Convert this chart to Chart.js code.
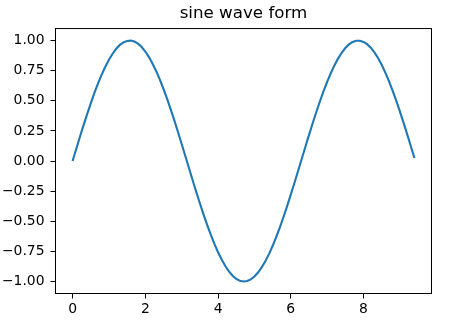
<!DOCTYPE html>
<html lang="en">
<head>
    <meta charset="UTF-8">
    <title>sine wave form</title>
    <script src="https://cdn.jsdelivr.net/npm/chart.js"></script>
    <style>
        body { margin: 0; background: #fff; }
        .wrap { width: 455px; height: 321px; }
    </style>
</head>
<body>
    <div class="wrap"><canvas id="chart" width="455" height="321"></canvas></div>

    <script>
        // values, x step 0.1
        const xValues = [
            0.0, 0.1, 0.2, 0.3, 0.4, 0.5, 0.6, 0.7, 0.8, 0.9,
            1.0, 1.1, 1.2, 1.3, 1.4, 1.5, 1.6, 1.7, 1.8, 1.9,
            2.0, 2.1, 2.2, 2.3, 2.4, 2.5, 2.6, 2.7, 2.8, 2.9,
            3.0, 3.1, 3.2, 3.3, 3.4, 3.5, 3.6, 3.7, 3.8, 3.9,
            4.0, 4.1, 4.2, 4.3, 4.4, 4.5, 4.6, 4.7, 4.8, 4.9,
            5.0, 5.1, 5.2, 5.3, 5.4, 5.5, 5.6, 5.7, 5.8, 5.9,
            6.0, 6.1, 6.2, 6.3, 6.4, 6.5, 6.6, 6.7, 6.8, 6.9,
            7.0, 7.1, 7.2, 7.3, 7.4, 7.5, 7.6, 7.7, 7.8, 7.9,
            8.0, 8.1, 8.2, 8.3, 8.4, 8.5, 8.6, 8.7, 8.8, 8.9,
            9.0, 9.1, 9.2, 9.3, 9.4
        ];
        const yValues = [
            0.000, 0.100, 0.199, 0.296, 0.389, 0.479, 0.565, 0.644, 0.717, 0.783,
            0.841, 0.891, 0.932, 0.964, 0.985, 0.997, 1.000, 0.992, 0.974, 0.946,
            0.909, 0.863, 0.808, 0.746, 0.676, 0.598, 0.516, 0.427, 0.335, 0.239,
            0.141, 0.042, -0.058, -0.158, -0.256, -0.351, -0.443, -0.530, -0.612, -0.688,
            -0.757, -0.818, -0.872, -0.916, -0.952, -0.978, -0.994, -1.000, -0.996, -0.983,
            -0.959, -0.926, -0.883, -0.832, -0.773, -0.706, -0.631, -0.551, -0.465, -0.374,
            -0.279, -0.182, -0.083, 0.017, 0.117, 0.215, 0.312, 0.405, 0.494, 0.578,
            0.657, 0.729, 0.794, 0.850, 0.899, 0.938, 0.968, 0.988, 0.999, 0.999,
            0.989, 0.970, 0.941, 0.902, 0.855, 0.799, 0.734, 0.663, 0.585, 0.501,
            0.412, 0.319, 0.223, 0.125, 0.025
        ];
        const xTicks = [0, 2, 4, 6, 8];
        const yTicks = [-1.00, -0.75, -0.50, -0.25, 0.00, 0.25, 0.50, 0.75, 1.00];

        Chart.defaults.font.family = 'DejaVu Sans';
        Chart.defaults.font.size = 13.9;
        Chart.defaults.color = '#000';

        // matplotlib-style box around the axes
        const frame = {
            id: 'frame',
            afterDatasetsDraw(chart) {
                const a = chart.chartArea, ctx = chart.ctx;
                ctx.save();
                ctx.strokeStyle = '#000';
                ctx.lineWidth = 1;
                ctx.strokeRect(a.left, a.top, a.right - a.left, a.bottom - a.top);
                ctx.restore();
            }
        };

        const minus = v => String(v).replace('-', '\u2212');

        new Chart(document.getElementById('chart'), {
            type: 'line',
            data: {
                datasets: [{
                    data: xValues.map((x, i) => ({ x: x, y: yValues[i] })),
                    borderColor: '#1f77b4',
                    borderWidth: 2.1,
                    pointRadius: 0,
                    tension: 0,
                    fill: false
                }]
            },
            options: {
                responsive: false,
                animation: false,
                layout: { padding: { left: 0, right: 23.5, top: 0, bottom: 0 } },
                plugins: {
                    legend: { display: false },
                    tooltip: { enabled: false },
                    title: {
                        display: true,
                        fullSize: false, // centre over the axes, not the canvas
                        text: 'sine wave form',
                        color: '#000',
                        font: { size: 16.7, weight: 'normal' },
                        padding: { top: 4, bottom: 4.5 }
                    }
                },
                scales: {
                    x: {
                        type: 'linear',
                        min: -0.47,
                        max: 9.87,
                        border: { display: false },
                        grid: { drawOnChartArea: false, tickLength: 5, color: '#000', lineWidth: 1 },
                        ticks: { padding: 3, maxRotation: 0, callback: v => minus(v) },
                        afterBuildTicks: s => { s.ticks = xTicks.map(v => ({ value: v })); },
                        afterFit: s => { s.height = 27.5; }
                    },
                    y: {
                        min: -1.1,
                        max: 1.1,
                        border: { display: false },
                        grid: { drawOnChartArea: false, tickLength: 5, color: '#000', lineWidth: 1 },
                        ticks: { padding: 6, autoSkip: false, callback: v => minus(v.toFixed(2)) },
                        afterBuildTicks: s => { s.ticks = yTicks.map(v => ({ value: v })); },
                        afterFit: s => { s.width = 55.5; }
                    }
                }
            },
            plugins: [frame]
        });
    </script>
</body>
</html>
